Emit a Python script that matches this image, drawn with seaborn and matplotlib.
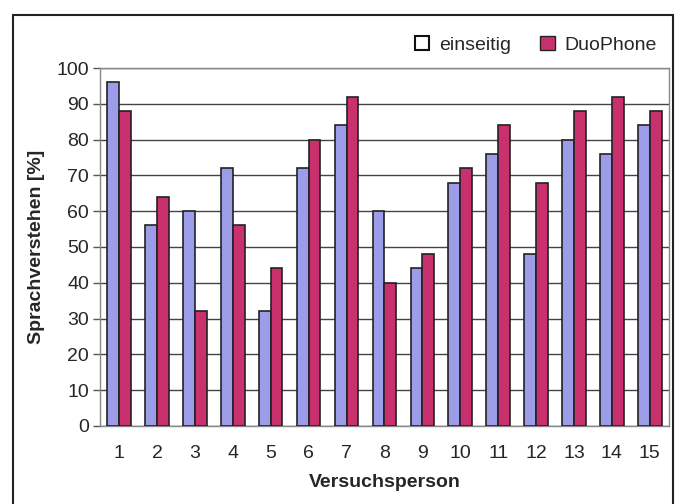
import matplotlib
matplotlib.use("Agg")
import matplotlib.pyplot as plt
import seaborn as sns
import pandas as pd
import numpy as np
from matplotlib.patches import Rectangle, Patch

persons = [str(i) for i in range(1, 16)]
einseitig = [96, 56, 60, 72, 32, 72, 84, 60, 44, 68, 76, 48, 80, 76, 84]
duophone = [88, 64, 32, 56, 44, 80, 92, 40, 48, 72, 84, 68, 88, 92, 88]
series = ["einseitig", "DuoPhone"]
yticks = list(range(0, 101, 10))

df = pd.DataFrame({
    "Versuchsperson": persons * 2,
    "Wert": einseitig + duophone,
    "Serie": ["einseitig"] * len(persons) + ["DuoPhone"] * len(persons),
})

sns.set_theme(style="white")
plt.rcParams["font.family"] = ["Liberation Sans", "DejaVu Sans"]

colors = {"einseitig": "#9c9ce8", "DuoPhone": "#c8306e"}

fig = plt.figure(figsize=(6.81, 5.04), dpi=100)
ax = fig.add_axes([0.147, 0.155, 0.835, 0.710])

sns.barplot(data=df, x="Versuchsperson", y="Wert", hue="Serie", hue_order=series,
            order=persons, palette=colors, saturation=1, width=0.62, edgecolor="#222222",
            linewidth=1.2, ax=ax, legend=False, zorder=3)

ax.set_ylim(0, 100)
ax.set_xlim(-0.5, len(persons) - 0.5)
ax.set_yticks(yticks)
ax.set_yticklabels([str(v) for v in yticks], fontsize=14)
ax.set_xticks(range(len(persons)))
ax.set_xticklabels(persons, fontsize=14)
ax.set_xticks(np.arange(-0.5, len(persons), 1), minor=True)
ax.tick_params(axis="x", which="major", length=0, pad=13.5)
ax.tick_params(axis="x", which="minor", length=5, color="#555555", width=1)
ax.tick_params(axis="y", which="major", length=5, color="#555555", width=1, left=True, pad=3)
ax.yaxis.grid(True, color="#444444", linewidth=1.0, zorder=0)
ax.set_axisbelow(True)
for s in ax.spines.values():
    s.set_color("#888888")
    s.set_linewidth(1.0)

ax.set_xlabel("Versuchsperson", fontsize=14, fontweight="bold", labelpad=9)
ax.set_ylabel("Sprachverstehen [%]", fontsize=14, fontweight="bold", labelpad=8)

handles = [Patch(facecolor="white", edgecolor="#111111", linewidth=1.5, label="einseitig"),
           Patch(facecolor=colors["DuoPhone"], edgecolor="#222222", linewidth=1, label="DuoPhone")]
fig.legend(handles=handles, loc="center right", bbox_to_anchor=(0.99, 0.911), ncol=2,
           frameon=False, fontsize=14, handlelength=0.75, handleheight=0.75,
           columnspacing=1.5, handletextpad=0.5)

fig.patches.append(Rectangle((0.019, -0.1), 0.969, 1.07, transform=fig.transFigure,
                             fill=False, edgecolor="#222222", linewidth=1.5))

fig.savefig("out.png", dpi=100)
